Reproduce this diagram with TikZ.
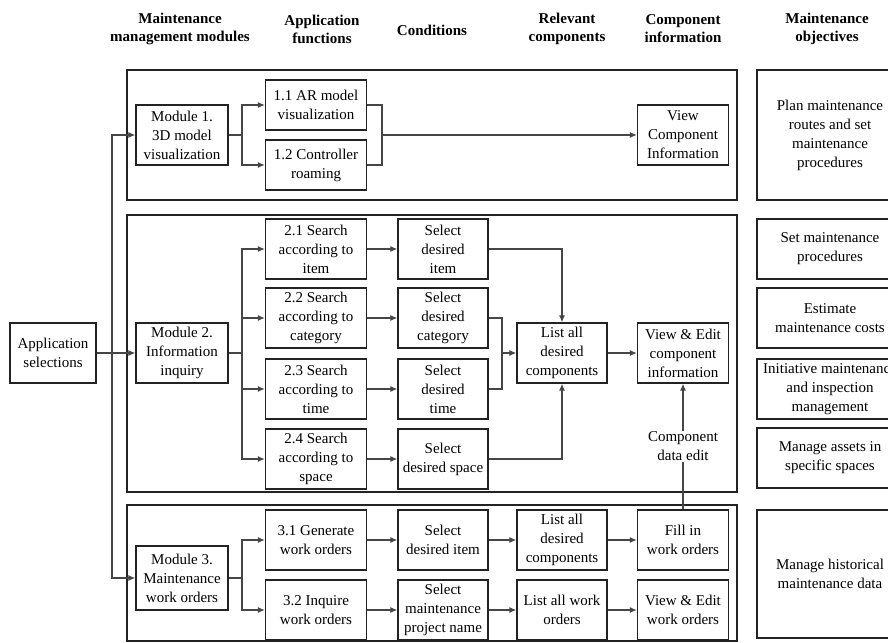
\documentclass[tikz,border=0pt]{standalone}
\usepackage{fontspec}
\setmainfont{Liberation Serif}
\usetikzlibrary{arrows.meta}
\definecolor{framegray}{RGB}{35,35,35}
\definecolor{linkgray}{RGB}{70,70,70}

\begin{document}
\begin{tikzpicture}[x=1pt, y=-1pt, font=\fontsize{15}{19}\selectfont,
  box/.style={draw=framegray, line width=1.3pt, align=center, inner sep=0pt, minimum height=60pt},
  head/.style={align=center, font=\fontsize{15}{18}\selectfont\bfseries},
  flow/.style={draw=linkgray, line width=1.2pt, -{Latex[length=7pt,width=6pt]}},
  link/.style={draw=linkgray, line width=1.2pt},
  frame/.style={draw=framegray, line width=1.4pt}]
\useasboundingbox (0,0) rectangle (888,642);

\node[head] (h1) at (180,29) {Maintenance\\management modules};
\node[head] (h2) at (322,29) {Application\\functions};
\node[head] (h3) at (432,30) {Conditions};
\node[head] (h4) at (567,29) {Relevant\\components};
\node[head] (h5) at (683,29) {Component\\information};
\node[head] (h6) at (827,29) {Maintenance\\objectives};

\draw[frame] (127,70) rectangle (737,200);
\draw[frame] (127,215) rectangle (737,492);
\draw[frame] (127,505) rectangle (737,641);

\node[box, minimum width=146pt, minimum height=130pt] (o1) at (830,135) {Plan maintenance\\routes and set\\maintenance\\procedures};
\node[box, minimum width=146pt] (o2) at (830,249) {Set maintenance\\procedures};
\node[box, minimum width=146pt] (o3) at (830,318) {Estimate\\maintenance costs};
\node[box, minimum width=146pt] (o4) at (830,389) {Initiative maintenance\\and inspection\\management};
\node[box, minimum width=146pt] (o5) at (830,458) {Manage assets in\\specific spaces};
\node[box, minimum width=146pt, minimum height=128pt] (o6) at (830,574) {Manage historical\\maintenance data};

\node[box, minimum width=86pt] (apps) at (53,353) {Application\\selections};

\node[box, minimum width=92pt] (mod1) at (182,135) {Module 1.\\3D model\\visualization};
\node[box, minimum width=92pt] (mod2) at (182,353) {Module 2.\\Information\\inquiry};
\node[box, minimum width=92pt, minimum height=64pt] (mod3) at (182,578) {Module 3.\\Maintenance\\work orders};

\node[box, minimum width=101pt, minimum height=50pt] (f11) at (316,105) {1.1 AR model\\visualization};
\node[box, minimum width=101pt, minimum height=50pt] (f12) at (316,165) {1.2 Controller\\roaming};
\node[box, minimum width=91pt] (vci) at (683,135) {View\\Component\\Information};

\node[box, minimum width=101pt] (f21) at (316,249) {2.1 Search\\according to\\item};
\node[box, minimum width=101pt] (f22) at (316,318) {2.2 Search\\according to\\category};
\node[box, minimum width=101pt] (f23) at (316,389) {2.3 Search\\according to\\time};
\node[box, minimum width=101pt] (f24) at (316,459) {2.4 Search\\according to\\space};
\node[box, minimum width=90pt] (c21) at (443,249) {Select\\desired\\item};
\node[box, minimum width=90pt] (c22) at (443,318) {Select\\desired\\category};
\node[box, minimum width=90pt] (c23) at (443,389) {Select\\desired\\time};
\node[box, minimum width=90pt] (c24) at (443,459) {Select\\desired space};
\node[box, minimum width=90pt] (lst) at (562,353) {List all\\desired\\components};
\node[box, minimum width=91pt] (vce) at (683,353) {View \& Edit\\component\\information};

\node[box, minimum width=101pt] (f31) at (316,540) {3.1 Generate\\work orders};
\node[box, minimum width=101pt] (f32) at (316,610) {3.2 Inquire\\work orders};
\node[box, minimum width=90pt] (c31) at (443,540) {Select\\desired item};
\node[box, minimum width=90pt] (c32) at (443,610) {Select\\maintenance\\project name};
\node[box, minimum width=90pt] (l31) at (562,540) {List all\\desired\\components};
\node[box, minimum width=90pt] (l32) at (562,610) {List all work\\orders};
\node[box, minimum width=91pt] (fill) at (683,540) {Fill in\\work orders};
\node[box, minimum width=91pt] (vwo) at (683,610) {View \& Edit\\work orders};

\coordinate (trunk) at (112,353);
\draw[flow] (apps.east) -- (mod2.west);
\draw[flow] (trunk) |- (mod1.west);
\draw[flow] (trunk) |- (mod3.west);

\coordinate (s1) at (242,135);
\coordinate (m1) at (382,135);
\draw[link] (mod1.east) -- (s1);
\draw[flow] (s1) |- (f11.west);
\draw[flow] (s1) |- (f12.west);
\draw[link] (f11.east) -| (m1);
\draw[link] (f12.east) -| (m1);
\draw[flow] (m1) -- (vci.west);

\coordinate (s2) at (242,353);
\coordinate (m2) at (502,353);
\draw[link] (mod2.east) -- (s2);
\foreach \i in {1,...,4} {
  \draw[flow] (s2) |- (f2\i.west);
  \draw[flow] (f2\i.east) -- (c2\i.west);
}
\draw[flow] (c21.east) -| (lst.north);
\draw[link] (c22.east) -| (m2);
\draw[link] (c23.east) -| (m2);
\draw[flow] (m2) -- (lst.west);
\draw[flow] (c24.east) -| (lst.south);
\draw[flow] (lst.east) -- (vce.west);
\draw[flow] (fill.north) -- node[fill=white, inner sep=1pt, align=center] (cde) {Component\\data edit} (vce.south);

\coordinate (s3) at (242,578);
\draw[link] (mod3.east) -- (s3);
\draw[flow] (s3) |- (f31.west);
\draw[flow] (s3) |- (f32.west);
\draw[flow] (f31.east) -- (c31.west);
\draw[flow] (c31.east) -- (l31.west);
\draw[flow] (l31.east) -- (fill.west);
\draw[flow] (f32.east) -- (c32.west);
\draw[flow] (c32.east) -- (l32.west);
\draw[flow] (l32.east) -- (vwo.west);
\end{tikzpicture}
\end{document}
